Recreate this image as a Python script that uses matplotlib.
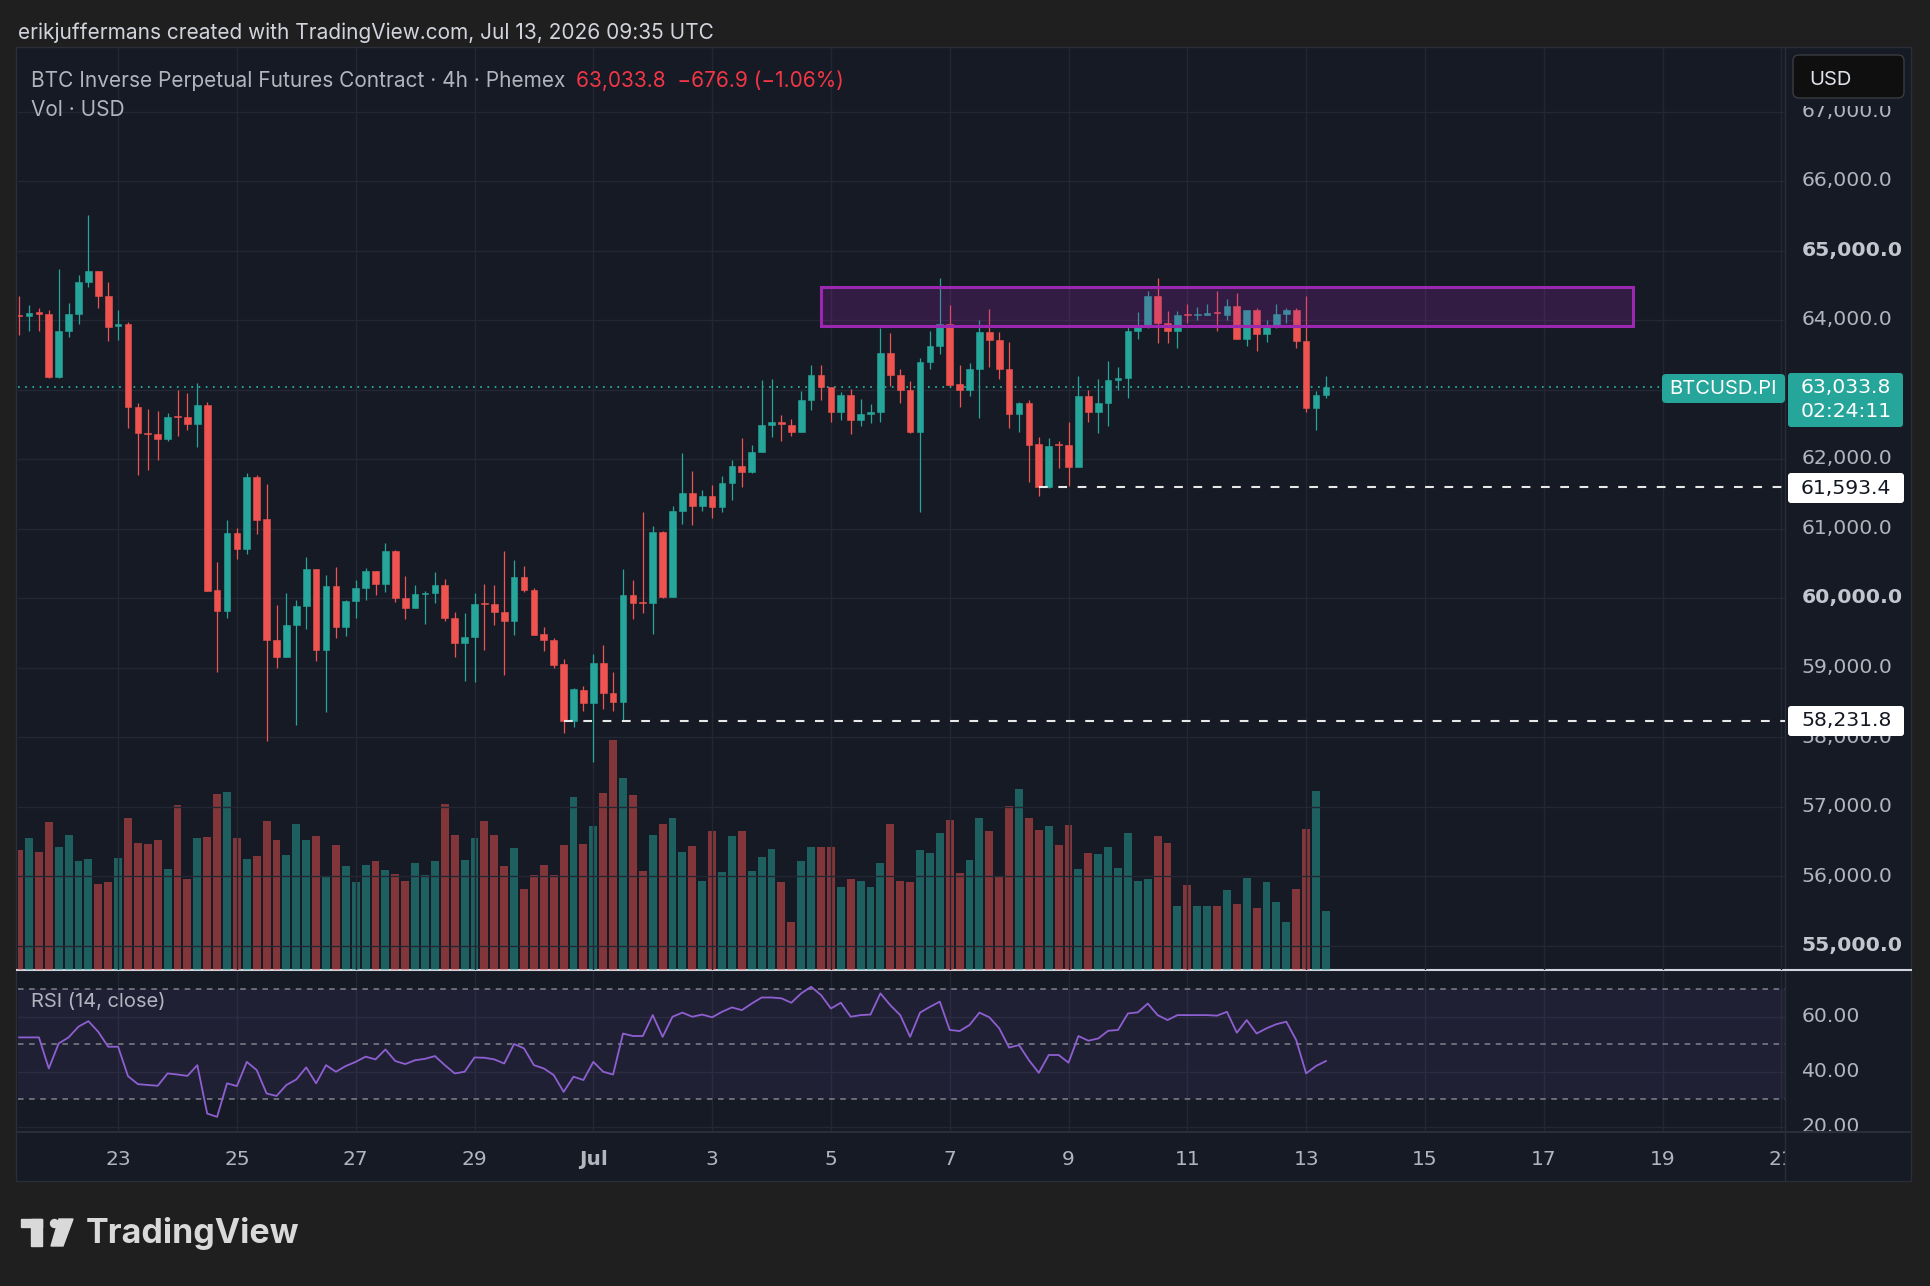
import numpy as np
import pandas as pd
import matplotlib
matplotlib.use("Agg")
import matplotlib.pyplot as plt
import matplotlib.dates as mdates
from matplotlib.patches import Rectangle, FancyBboxPatch, Ellipse, Polygon
from matplotlib.lines import Line2D

plt.rcParams['font.family'] = ['Inter', 'DejaVu Sans']
plt.rcParams['lines.scale_dashes'] = False

# ---- data: BTCUSD.PI 4h candles, Jun 21 08:00 -> Jul 13 08:00 ----
first_bar = "2026-06-21 08:00"
opens = [64070, 64052, 64114, 64083, 63177, 63845, 64083, 64549, 64700, 64347,
         63907, 63948, 62742, 62374, 62355, 62281, 62612, 62607, 62498, 62773,
         60115, 59810, 60934, 60711, 61747, 61140, 59395, 59157, 59613, 59882,
         60416, 59250, 60167, 59587, 59950, 60141, 60390, 60198, 60675, 60001,
         59861, 60058, 60070, 60193, 59716, 59354, 59441, 59922, 59910, 59800,
         59667, 60306, 60114, 59480, 59400, 59055, 58232, 58680, 58488, 59066,
         58633, 58498, 60037, 59935, 59925, 60951, 60018, 61254, 61504, 61326,
         61461, 61312, 61648, 61903, 61807, 62105, 62495, 62529, 62495, 62394,
         62851, 63202, 63034, 62673, 62923, 62567, 62644, 62683, 63530, 63202,
         63000, 62394, 63390, 63626, 63942, 63072, 63000, 63290, 63832, 63707,
         63289, 62649, 62808, 62216, 61593, 62204, 62195, 61883, 62913, 62683,
         62803, 63143, 63162, 63847, 63895, 64340, 63952, 63847, 64080, 64070,
         64072, 64120, 64077, 64196, 63727, 64148, 63799, 63904, 64086, 64148,
         63703, 62731, 62922]
highs = [64350, 64213, 64171, 64145, 64731, 64249, 64643, 65508, 64710, 64544,
         64145, 63969, 62809, 62721, 62695, 62669, 62990, 62954, 63094, 62824,
         60519, 61125, 61011, 61804, 61773, 61643, 59898, 60074, 59975, 60597,
         60420, 60338, 60442, 59965, 60260, 60426, 60395, 60789, 60690, 60322,
         60193, 60105, 60379, 60270, 59801, 59787, 60076, 60205, 60181, 60672,
         60547, 60460, 60147, 59585, 59420, 59123, 58705, 58729, 59195, 59320,
         58935, 60422, 60253, 61244, 61038, 60965, 61317, 62081, 61822, 61557,
         61624, 61749, 61990, 62298, 62206, 63135, 63149, 62634, 62577, 62976,
         63356, 63356, 63043, 62962, 63010, 62865, 62793, 63890, 63808, 63298,
         63120, 63452, 63846, 64600, 64216, 63346, 63385, 64000, 64154, 63827,
         63683, 62817, 62856, 62322, 62298, 62256, 62529, 63190, 63000, 63152,
         63406, 63320, 63895, 64110, 64412, 64604, 64125, 64125, 64230, 64182,
         64230, 64412, 64302, 64383, 64150, 64168, 64000, 64230, 64172, 64172,
         64340, 62980, 63190]
lows = [63785, 63835, 63845, 63161, 63170, 63757, 63938, 64482, 64166, 63705,
        63715, 62451, 61773, 61840, 61985, 62255, 62332, 62420, 62177, 60100,
        58939, 59706, 60556, 60638, 60918, 57945, 58991, 59150, 58178, 59551,
        59095, 58354, 59421, 59447, 59718, 59965, 60043, 60090, 59939, 59701,
        59850, 59624, 59925, 59665, 59147, 58801, 58791, 59248, 59617, 58897,
        59465, 60085, 59470, 59234, 58993, 58055, 58137, 58368, 57646, 58402,
        58378, 58224, 59700, 59787, 59489, 60003, 60015, 61062, 61047, 61249,
        61158, 61239, 61413, 61600, 61800, 62100, 62322, 62254, 62336, 62384,
        62707, 62856, 62529, 62567, 62360, 62481, 62514, 62529, 63048, 62808,
        62375, 61240, 63298, 63506, 63050, 62745, 62904, 62586, 63322, 63144,
        62442, 62384, 61663, 61461, 61576, 61868, 61605, 61880, 62529, 62371,
        62482, 62999, 62874, 63727, 63890, 63665, 63665, 63593, 63952, 64000,
        64070, 63837, 64000, 63720, 63631, 63559, 63689, 63885, 63952, 63593,
        62673, 62424, 62874]
closes = [64060, 64094, 64083, 63177, 63845, 64083, 64549, 64700, 64347, 63902,
          63938, 62742, 62374, 62355, 62281, 62607, 62600, 62498, 62773, 60105,
          59810, 60934, 60711, 61747, 61125, 59395, 59157, 59613, 59882, 60416,
          59250, 60167, 59587, 59950, 60141, 60390, 60198, 60675, 60001, 59861,
          60053, 60070, 60193, 59716, 59354, 59441, 59917, 59910, 59797, 59667,
          60306, 60114, 59474, 59393, 59041, 58231.8, 58690, 58488, 59066, 58633,
          58498, 60037, 59922, 59925, 60951, 60018, 61254, 61504, 61326, 61461,
          61312, 61648, 61903, 61807, 62105, 62495, 62529, 62500, 62394, 62851,
          63202, 63034, 62673, 62923, 62567, 62649, 62683, 63530, 63202, 63000,
          62394, 63390, 63626, 63942, 63060, 63000, 63298, 63832, 63707, 63289,
          62649, 62808, 62206, 61593.4, 62192, 62195, 61883, 62913, 62683, 62803,
          63143, 63162, 63847, 63895, 64340, 63952, 63847, 64072, 64070, 64086,
          64100, 64100, 64196, 63727, 64148, 63799, 63904, 64086, 64148, 63703,
          62731, 62922, 63033.8]
volume = [120, 132, 118, 148, 123, 135, 109, 111, 86, 88,
          112, 152, 127, 126, 130, 101, 165, 91, 132, 133,
          176, 178, 132, 111, 114, 149, 130, 115, 146, 130,
          134, 94, 125, 104, 88, 105, 109, 100, 96, 89,
          107, 95, 109, 166, 135, 110, 132, 149, 135, 104,
          122, 81, 95, 105, 95, 125, 173, 126, 144, 177,
          230, 192, 175, 99, 135, 146, 152, 118, 124, 89,
          139, 98, 134, 139, 99, 113, 121, 88, 48, 109,
          123, 123, 123, 83, 91, 89, 83, 107, 146, 89,
          88, 120, 117, 137, 150, 97, 110, 152, 139, 93,
          164, 181, 152, 140, 144, 125, 145, 101, 117, 116,
          123, 102, 137, 89, 91, 134, 127, 64, 85, 64,
          64, 64, 80, 66, 92, 62, 88, 68, 48, 81,
          141, 179, 59]
rsi = [52.5, 52.5, 52.5, 41.2, 50.3, 52.5, 56.4, 58.4, 54.5, 49.1,
       49.1, 38.4, 35.5, 35.2, 34.9, 39.4, 39.0, 38.5, 42.4, 24.8,
       23.6, 35.8, 34.8, 43.6, 40.6, 32.1, 31.2, 35.2, 37.2, 41.6,
       35.8, 42.4, 40.0, 42.1, 43.6, 45.5, 44.5, 48.1, 43.9, 42.8,
       44.2, 44.7, 45.7, 42.4, 39.4, 40.0, 45.2, 45.1, 44.5, 43.0,
       50.1, 48.5, 42.4, 41.2, 38.8, 32.7, 38.2, 37.0, 43.6, 40.0,
       39.0, 53.9, 53.0, 53.0, 60.6, 52.7, 60.0, 61.5, 60.0, 60.8,
       59.8, 61.8, 63.4, 62.4, 64.8, 67.0, 67.0, 66.7, 65.1, 68.5,
       70.9, 67.9, 63.0, 65.1, 60.0, 60.6, 60.8, 68.5, 64.2, 60.6,
       52.7, 61.5, 63.6, 65.5, 55.2, 54.8, 57.0, 61.5, 59.8, 55.8,
       48.8, 49.7, 44.2, 39.6, 46.1, 46.1, 43.3, 53.0, 51.3, 52.1,
       54.9, 55.2, 61.2, 61.6, 64.8, 60.6, 58.8, 60.6, 60.6, 60.6,
       60.6, 60.4, 61.8, 54.2, 58.8, 53.9, 55.8, 57.3, 58.2, 51.5,
       39.4, 42.1, 43.9]

last_price = 63033.8
support_levels = [61593.4, 58231.8]
support_start = [103, 55]
zone_low, zone_high = 63915, 64480
zone_start, zone_end = "2026-07-04 20:00", "2026-07-18 12:00"
price_ticks = list(range(55000, 68000, 1000))
rsi_ticks = [60, 40, 20]

# ---- styling ----
W, H = 1930, 1286
BG = '#161a25'
GRID = '#232733'
TXT = '#b2b5be'
GREEN, RED = '#26a69a', '#ef5350'
PURPLE = '#9c27b0'

opens, highs, lows, closes = map(np.array, (opens, highs, lows, closes))
times = pd.date_range(first_bar, periods=len(opens), freq="4h")
t = mdates.date2num(times)
step = 4 / 24
x0 = t[0] - 0.111 * step
x1 = t[0] + 178.37 * step
day_ticks = pd.date_range("2026-06-23", "2026-07-21", freq="2D")
td = mdates.date2num(day_ticks)


def fx(px):
    return px / W


def fy(py):
    return 1 - py / H


def pin(px, py):
    return (px / 100, (H - py) / 100)


fig = plt.figure(figsize=(W / 100, H / 100), dpi=100, facecolor='#1f1f1f')
tr_in = fig.dpi_scale_trans

# chart panel
fig.patches.append(Rectangle(pin(16, 1181), 18.95, 11.34, transform=tr_in,
                             facecolor=BG, edgecolor='#2a2e39', lw=1, zorder=-5))

# ---- main price pane ----
rect_main = [fx(18), fy(970), fx(1785) - fx(18), 922 / H]
ax = fig.add_axes(rect_main)
axv = ax.twinx()
ax.set_zorder(3)
axv.set_zorder(2)
for a in (ax, axv):
    a.patch.set_visible(False)
    a.set_axis_off()
    a.set_xlim(x0, x1)
ax.set_ylim(54647.5, 67913.7)

for p in price_ticks:
    ax.axhline(p, color=GRID, lw=1, zorder=0)
for d in td:
    ax.axvline(d, color=GRID, lw=1, zorder=0)

# volume (overlay)
vcol = np.where(closes >= opens, GREEN, RED)
axv.bar(t, volume, width=step * 0.8, color=vcol, alpha=0.5, lw=0)
axv.set_ylim(0, 922)

# candles
ccol = np.where(closes >= opens, GREEN, RED)
ax.vlines(t, lows, highs, colors=ccol, lw=0.9, zorder=4)
body_lo = np.minimum(opens, closes)
body_h = np.maximum(np.abs(closes - opens), 14)
ax.bar(t, body_h, bottom=body_lo, width=step * 0.68, color=ccol,
       edgecolor=ccol, lw=0.4, zorder=5)

# resistance zone
zx0, zx1 = mdates.date2num(pd.Timestamp(zone_start)), mdates.date2num(pd.Timestamp(zone_end))
ax.add_patch(Rectangle((zx0, zone_low), zx1 - zx0, zone_high - zone_low,
                       facecolor=PURPLE, alpha=0.22, lw=0, zorder=6))
ax.add_patch(Rectangle((zx0, zone_low), zx1 - zx0, zone_high - zone_low,
                       facecolor='none', edgecolor=PURPLE, lw=2.2, zorder=6))

# last price line and support lines
ax.axhline(last_price, color=GREEN, lw=1.4, ls=(0, (1.2, 4)), zorder=2)
for lvl, i in zip(support_levels, support_start):
    ax.hlines(lvl, t[i], x1, colors='#e8e8e8', lw=1.5, linestyles=(0, (6.3, 7.6)), zorder=6)

# header text
fig.text(fx(18), fy(33), "erikjuffermans created with TradingView.com, Jul 13, 2026 09:35 UTC",
         color='#d1d4dc', fontsize=15, va='center', ha='left')
fig.text(fx(31), fy(81), "BTC Inverse Perpetual Futures Contract · 4h · Phemex",
         color=TXT, fontsize=15, va='center', ha='left')
fig.text(fx(576), fy(81), "63,033.8  \u2212676.9 (\u22121.06%)",
         color='#f23645', fontsize=15, va='center', ha='left')
fig.text(fx(31), fy(110), "Vol · USD", color=TXT, fontsize=15, va='center', ha='left')

# ---- price scale ----
axps = fig.add_axes([fx(1785), fy(970), fx(1911) - fx(1785), (970 - 106) / H])
axps.set_axis_off()
axps.set_xlim(0, 1)
axps.set_ylim(54647.5, 67079.1)
for p in price_ticks:
    bold = p % 5000 == 0
    axps.text(0.13, p, f"{p:,.1f}", color='#c3c6ce' if bold else TXT, fontsize=14.7,
              family='DejaVu Sans', weight='bold' if bold else 'normal',
              va='center', ha='left', clip_on=True)

# current price tag
fig.patches.append(FancyBboxPatch(pin(1788, 427), 1.15, 0.54, transform=tr_in,
                                  boxstyle="round,pad=0,rounding_size=0.03",
                                  facecolor=GREEN, lw=0, zorder=5))
fig.text(fx(1801), fy(387), f"{last_price:,.1f}", color='white', fontsize=14.7,
         family='DejaVu Sans', va='center', ha='left', zorder=6)
fig.text(fx(1801), fy(411), "02:24:11", color='white', fontsize=14.7,
         family='DejaVu Sans', va='center', ha='left', zorder=6)
fig.patches.append(FancyBboxPatch(pin(1662, 403), 1.23, 0.29, transform=tr_in,
                                  boxstyle="round,pad=0,rounding_size=0.04",
                                  facecolor=GREEN, lw=0, zorder=5))
fig.text(fx(1669), fy(389), "BTCUSD.PI", color='white', fontsize=14.5,
         va='center', ha='left', zorder=6)

for lvl, ytop in zip(support_levels, [473, 706]):
    fig.patches.append(FancyBboxPatch(pin(1788, ytop + 30), 1.16, 0.30, transform=tr_in,
                                      boxstyle="round,pad=0,rounding_size=0.03",
                                      facecolor='white', lw=0, zorder=5))
    fig.text(fx(1801), fy(ytop + 15), f"{lvl:,.1f}", color='#131722', fontsize=14.7,
             family='DejaVu Sans', va='center', ha='left', zorder=6)

# USD button
fig.patches.append(FancyBboxPatch(pin(1793, 98), 1.11, 0.43, transform=tr_in,
                                  boxstyle="round,pad=0,rounding_size=0.06",
                                  facecolor='#0f0f10', edgecolor='#3a3c42', lw=1, zorder=7))
fig.text(fx(1809), fy(78), "USD", color='#e0e3eb', fontsize=14.5, va='center_baseline',
         ha='left', zorder=8)

# ---- RSI pane ----
axr = fig.add_axes([fx(18), fy(1132), fx(1785) - fx(18), 162 / H])
axr.set_axis_off()
axr.set_xlim(x0, x1)
axr.set_ylim(18.1, 77.0)
axr.axhspan(30, 70, color='#7e57c2', alpha=0.1, lw=0)
for v in rsi_ticks:
    axr.axhline(v, color=GRID, lw=1, zorder=0)
for d in td:
    axr.axvline(d, color=GRID, lw=1, zorder=0)
for v in (70, 50, 30):
    axr.axhline(v, color='#787b86', lw=1.2, ls=(0, (4, 4)), zorder=1)
axr.plot(t, rsi, color='#8e5fd0', lw=1.3, zorder=3)
axr.text(0.0075, 0.8, "RSI (14, close)", color=TXT, fontsize=14.5,
         va='center', ha='left', transform=axr.transAxes)

axrs = fig.add_axes([fx(1785), fy(1131), fx(1911) - fx(1785), 161 / H])
axrs.set_axis_off()
axrs.set_xlim(0, 1)
axrs.set_ylim(18.46, 77.0)
for v in rsi_ticks:
    axrs.text(0.13, v, f"{v:.2f}", color=TXT, fontsize=14.7, family='DejaVu Sans',
              va='center', ha='left', clip_on=True)

# ---- date axis ----
axd = fig.add_axes([fx(18), fy(1180), fx(1785) - fx(18), 48 / H])
axd.set_axis_off()
axd.set_xlim(x0, x1)
axd.set_ylim(0, 1)
for d, day in zip(td, day_ticks):
    lab = day.strftime("%b") if day.day == 1 else str(day.day)
    axd.text(d, 0.42, lab, color=TXT, fontsize=14.5, family='DejaVu Sans',
             weight='bold' if day.day == 1 else 'normal',
             ha='center', va='center', clip_on=True)

# separators
fig.add_artist(Line2D([fx(1785), fx(1785)], [fy(48), fy(1180)], color='#2a2e39', lw=1))
fig.add_artist(Line2D([fx(17), fx(1911)], [fy(1132), fy(1132)], color='#2a2e39', lw=1.5))
fig.add_artist(Line2D([fx(17), fx(1911)], [fy(970), fy(970)], color='#d1d4dc', lw=1.5))

# ---- TradingView watermark ----
logo = '#d9d9d9'
fig.patches.append(Rectangle(pin(21, 1227), 0.21, 0.08, transform=tr_in, color=logo))
fig.patches.append(Rectangle(pin(31, 1246), 0.11, 0.27, transform=tr_in, color=logo))
fig.patches.append(Ellipse(pin(54.5, 1223.5), 0.08, 0.08, transform=tr_in, color=logo))
fig.patches.append(Polygon([pin(59, 1219), pin(73, 1219), pin(63, 1246), pin(51, 1246)],
                           closed=True, transform=tr_in, color=logo))
fig.text(fx(86), fy(1233), "TradingView", color=logo, fontsize=24.5, weight='bold',
         va='center', ha='left')

fig.savefig("out.png", dpi=100, facecolor=fig.get_facecolor())
